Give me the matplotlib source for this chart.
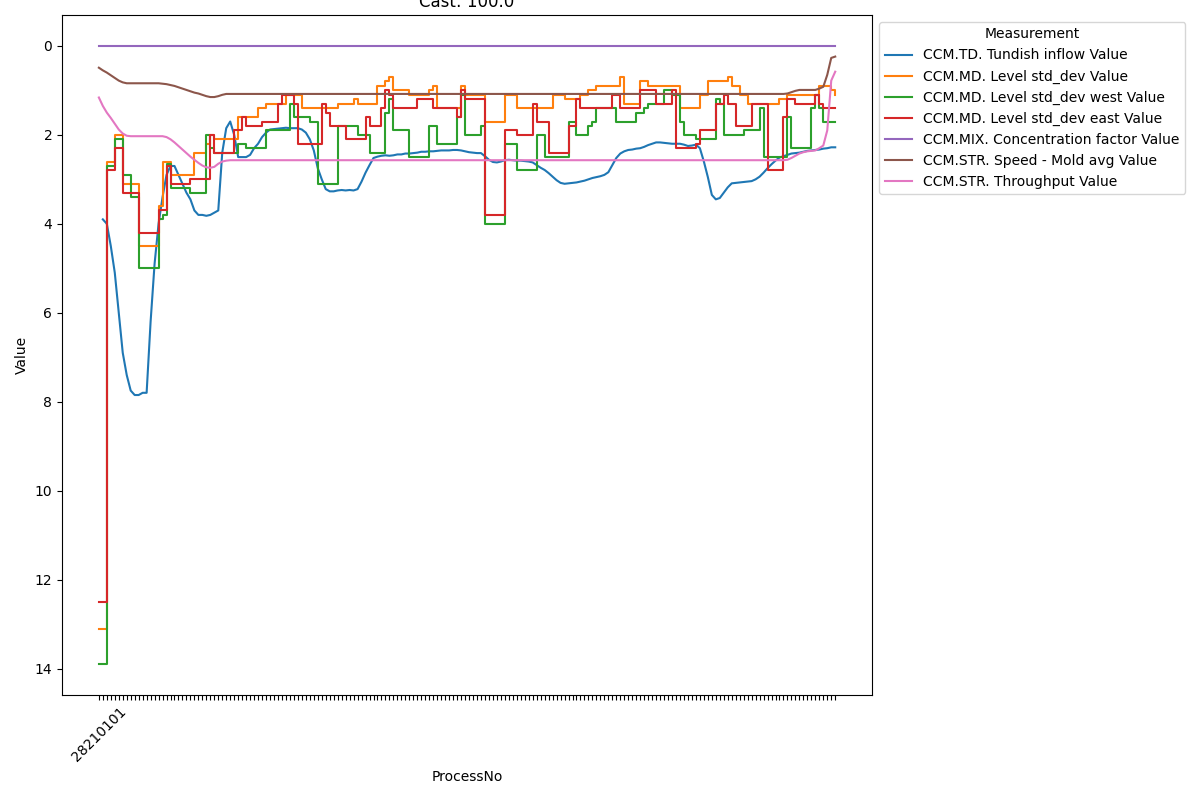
import numpy as np
import matplotlib
matplotlib.use("Agg")
import matplotlib.pyplot as plt

nan = np.nan

# values, one per ProcessNo tick
tundish_inflow = [
    nan, 3.9, 4.0, 4.5, 5.1, 6.0, 6.9, 7.4, 7.75, 7.85,
    7.85, 7.8, 7.8, 6.2, 4.9, 4.0, 3.4, 2.9, 2.7, 2.7,
    2.9, 3.1, 3.3, 3.45, 3.7, 3.8, 3.8, 3.82, 3.8, 3.75,
    3.7, 2.4, 1.85, 1.7, 2.0, 2.5, 2.5, 2.5, 2.45, 2.3,
    2.2, 2.05, 1.95, 1.88, 1.87, 1.86, 1.85, 1.84, 1.85, 1.85,
    1.85, 1.88, 1.95, 2.1, 2.35, 2.75, 3.0, 3.22, 3.27, 3.27,
    3.25, 3.24, 3.25, 3.24, 3.25, 3.22, 3.05, 2.85, 2.68, 2.52,
    2.49, 2.47, 2.46, 2.47, 2.46, 2.44, 2.44, 2.42, 2.42, 2.41,
    2.40, 2.38, 2.38, 2.37, 2.37, 2.36, 2.35, 2.35, 2.35, 2.34,
    2.34, 2.35, 2.37, 2.39, 2.40, 2.41, 2.41, 2.48, 2.56, 2.61,
    2.62, 2.60, 2.57, 2.56, 2.57, 2.58, 2.58, 2.59, 2.60, 2.62,
    2.68, 2.74, 2.79, 2.86, 2.94, 3.02, 3.08, 3.10, 3.09, 3.08,
    3.07, 3.05, 3.03, 3.00, 2.97, 2.95, 2.93, 2.90, 2.84, 2.68,
    2.52, 2.42, 2.37, 2.34, 2.33, 2.31, 2.30, 2.27, 2.23, 2.20,
    2.17, 2.17, 2.18, 2.19, 2.20, 2.20, 2.20, 2.22, 2.25, 2.24,
    2.22, 2.30, 2.60, 2.95, 3.35, 3.45, 3.42, 3.30, 3.18, 3.09,
    3.08, 3.07, 3.06, 3.05, 3.04, 3.00, 2.94, 2.85, 2.75, 2.66,
    2.58, 2.51, 2.48, 2.45, 2.42, 2.41, 2.40, 2.38, 2.36, 2.35,
    2.34, 2.33, 2.31, 2.30, 2.28, 2.28]

level_std = [
    13.1, 13.1, 2.6, 2.6, 2.0, 2.0, 3.1, 3.1, 3.1, 3.1,
    4.5, 4.5, 4.5, 4.5, 4.5, 3.6, 2.6, 2.6, 2.9, 2.9,
    2.9, 2.9, 2.9, 2.9, 2.4, 2.4, 2.4, 2.2, 2.0, 2.1,
    2.1, 2.1, 2.1, 2.1, 2.1, 1.6, 1.6, 1.6, 1.6, 1.6,
    1.4, 1.4, 1.3, 1.3, 1.3, 1.3, 1.3, 1.1, 1.1, 1.1,
    1.1, 1.4, 1.4, 1.4, 1.4, 1.4, 1.4, 1.4, 1.4, 1.4,
    1.3, 1.3, 1.3, 1.3, 1.2, 1.3, 1.3, 1.3, 1.3, 1.3,
    0.9, 0.9, 0.8, 0.7, 1.0, 1.0, 1.0, 1.0, 1.1, 1.1,
    1.1, 1.1, 1.1, 1.0, 0.9, 1.4, 1.4, 1.4, 1.4, 1.4,
    1.4, 0.9, 1.1, 1.1, 1.1, 1.1, 1.1, 1.7, 1.7, 1.7,
    1.7, 1.7, 1.1, 1.1, 1.1, 1.4, 1.4, 1.4, 1.4, 1.4,
    1.4, 1.4, 1.4, 1.4, 1.1, 1.1, 1.1, 1.2, 1.2, 1.2,
    1.2, 1.1, 1.1, 1.0, 1.0, 0.9, 0.9, 0.9, 0.9, 0.9,
    0.9, 0.7, 1.3, 1.3, 1.3, 1.3, 0.8, 0.8, 0.9, 0.9,
    0.9, 0.9, 0.9, 0.9, 0.9, 0.9, 1.4, 1.4, 1.4, 1.4,
    1.4, 1.1, 1.1, 0.8, 0.8, 0.8, 0.8, 0.8, 0.7, 0.9,
    0.9, 1.1, 1.1, 1.3, 1.3, 1.3, 1.3, 1.3, 1.3, 1.3,
    1.3, 1.2, 1.2, 1.1, 1.1, 1.1, 1.1, 1.1, 1.1, 1.1,
    1.1, 0.9, 0.9, 0.9, 1.0, 1.1]

level_std_west = [
    13.9, 13.9, 2.7, 2.7, 2.1, 2.1, 2.9, 2.9, 3.4, 3.4,
    5.0, 5.0, 5.0, 5.0, 5.0, 3.9, 3.8, 2.65, 3.2, 3.2,
    3.2, 3.2, 3.2, 3.3, 3.3, 3.3, 3.3, 2.0, 2.3, 2.4,
    2.4, 2.4, 2.4, 2.4, 2.4, 2.2, 2.2, 2.3, 2.3, 2.3,
    2.3, 2.3, 1.9, 1.9, 1.9, 1.9, 1.9, 1.9, 1.3, 1.6,
    1.6, 1.6, 1.6, 1.7, 1.7, 3.1, 3.1, 3.1, 3.1, 3.1,
    1.8, 1.8, 1.8, 1.8, 1.8, 2.0, 2.0, 2.0, 2.4, 2.4,
    2.4, 2.4, 1.5, 1.2, 1.9, 1.9, 1.9, 1.9, 2.5, 2.5,
    2.5, 2.5, 2.5, 1.8, 1.8, 2.2, 2.2, 2.2, 2.2, 2.2,
    1.6, 1.1, 2.0, 2.0, 2.0, 2.0, 1.8, 4.0, 4.0, 4.0,
    4.0, 4.0, 2.2, 2.2, 2.2, 2.8, 2.8, 2.8, 2.8, 2.8,
    2.0, 2.0, 2.5, 2.5, 2.5, 2.5, 2.5, 2.5, 1.7, 1.7,
    2.0, 2.0, 2.0, 1.8, 1.7, 1.4, 1.4, 1.4, 1.4, 1.4,
    1.7, 1.7, 1.7, 1.7, 1.7, 1.5, 1.5, 1.4, 1.3, 1.3,
    1.3, 1.3, 1.0, 1.0, 1.1, 1.1, 1.7, 2.0, 2.0, 2.0,
    2.1, 2.1, 2.1, 2.1, 2.1, 1.2, 1.3, 2.0, 2.0, 2.0,
    2.0, 2.0, 1.9, 1.9, 1.9, 1.9, 1.4, 2.5, 2.5, 2.5,
    2.5, 2.5, 2.5, 1.6, 2.3, 2.3, 2.3, 2.3, 2.3, 1.4,
    1.1, 1.4, 1.7, 1.7, 1.7, 1.7]

level_std_east = [
    12.5, 12.5, 2.8, 2.8, 2.3, 2.3, 3.3, 3.3, 3.3, 3.3,
    4.2, 4.2, 4.2, 4.2, 4.2, 3.7, 3.7, 2.7, 3.1, 3.1,
    3.1, 3.1, 3.1, 3.0, 3.0, 3.0, 3.0, 3.0, 2.0, 2.4,
    2.4, 2.4, 2.4, 2.4, 1.9, 1.9, 1.6, 1.8, 1.8, 1.8,
    1.8, 1.7, 1.7, 1.7, 1.7, 1.3, 1.1, 1.1, 1.1, 1.3,
    2.2, 2.2, 2.2, 2.2, 2.2, 2.2, 1.3, 1.5, 1.8, 1.8,
    1.8, 1.8, 2.1, 2.1, 2.1, 2.1, 2.1, 1.6, 1.8, 1.8,
    1.8, 1.4, 1.0, 1.1, 1.4, 1.4, 1.4, 1.4, 1.4, 1.4,
    1.2, 1.2, 1.2, 1.2, 1.4, 1.4, 1.4, 1.4, 1.4, 1.4,
    1.6, 1.0, 1.2, 1.2, 1.2, 1.2, 1.2, 3.8, 3.8, 3.8,
    3.8, 3.8, 1.9, 1.9, 1.9, 2.0, 2.0, 2.0, 2.0, 1.3,
    1.7, 1.7, 1.7, 2.4, 2.4, 2.4, 2.4, 2.4, 1.8, 1.8,
    1.2, 1.4, 1.4, 1.4, 1.4, 1.4, 1.4, 1.4, 1.4, 1.1,
    1.1, 1.4, 1.4, 1.4, 1.4, 1.4, 1.0, 1.0, 1.0, 1.0,
    1.3, 1.3, 1.3, 1.3, 1.0, 2.3, 2.3, 2.3, 2.3, 2.3,
    2.2, 1.9, 1.9, 1.9, 1.9, 1.3, 1.3, 1.1, 1.3, 1.3,
    1.8, 1.8, 1.8, 1.8, 1.3, 1.3, 1.3, 1.3, 2.8, 2.8,
    2.8, 2.8, 1.6, 1.2, 1.2, 1.3, 1.3, 1.3, 1.3, 1.3,
    1.1, 1.3, 1.4, 1.4, 1.4, 1.4]

concentration_factor = [
    0, 0, 0, 0, 0, 0, 0, 0, 0, 0, 0, 0, 0, 0, 0, 0, 0, 0, 0, 0,
    0, 0, 0, 0, 0, 0, 0, 0, 0, 0, 0, 0, 0, 0, 0, 0, 0, 0, 0, 0,
    0, 0, 0, 0, 0, 0, 0, 0, 0, 0, 0, 0, 0, 0, 0, 0, 0, 0, 0, 0,
    0, 0, 0, 0, 0, 0, 0, 0, 0, 0, 0, 0, 0, 0, 0, 0, 0, 0, 0, 0,
    0, 0, 0, 0, 0, 0, 0, 0, 0, 0, 0, 0, 0, 0, 0, 0, 0, 0, 0, 0,
    0, 0, 0, 0, 0, 0, 0, 0, 0, 0, 0, 0, 0, 0, 0, 0, 0, 0, 0, 0,
    0, 0, 0, 0, 0, 0, 0, 0, 0, 0, 0, 0, 0, 0, 0, 0, 0, 0, 0, 0,
    0, 0, 0, 0, 0, 0, 0, 0, 0, 0, 0, 0, 0, 0, 0, 0, 0, 0, 0, 0,
    0, 0, 0, 0, 0, 0, 0, 0, 0, 0, 0, 0, 0, 0, 0, 0, 0, 0, 0, 0,
    0, 0, 0, 0, 0, 0]

speed_mold_avg = [
    0.49, 0.55, 0.60, 0.66, 0.72, 0.78, 0.82, 0.84, 0.84, 0.84,
    0.84, 0.84, 0.84, 0.84, 0.84, 0.84, 0.85, 0.86, 0.88, 0.90,
    0.93, 0.96, 0.99, 1.02, 1.05, 1.07, 1.10, 1.13, 1.15, 1.15,
    1.13, 1.10, 1.08, 1.08, 1.08, 1.08, 1.08, 1.08, 1.08, 1.08,
    1.08, 1.08, 1.08, 1.08, 1.08, 1.08, 1.08, 1.08, 1.08, 1.08,
    1.08, 1.08, 1.08, 1.08, 1.08, 1.08, 1.08, 1.08, 1.08, 1.08,
    1.08, 1.08, 1.08, 1.08, 1.08, 1.08, 1.08, 1.08, 1.08, 1.08,
    1.08, 1.08, 1.08, 1.08, 1.08, 1.08, 1.08, 1.08, 1.08, 1.08,
    1.08, 1.08, 1.08, 1.08, 1.08, 1.08, 1.08, 1.08, 1.08, 1.08,
    1.08, 1.08, 1.08, 1.08, 1.08, 1.08, 1.08, 1.08, 1.08, 1.08,
    1.08, 1.08, 1.08, 1.08, 1.08, 1.08, 1.08, 1.08, 1.08, 1.08,
    1.08, 1.08, 1.08, 1.08, 1.08, 1.08, 1.08, 1.08, 1.08, 1.08,
    1.08, 1.08, 1.08, 1.08, 1.08, 1.08, 1.08, 1.08, 1.08, 1.08,
    1.08, 1.08, 1.08, 1.08, 1.08, 1.08, 1.08, 1.08, 1.08, 1.08,
    1.08, 1.08, 1.08, 1.08, 1.08, 1.08, 1.08, 1.08, 1.08, 1.08,
    1.08, 1.08, 1.08, 1.08, 1.08, 1.08, 1.08, 1.08, 1.08, 1.08,
    1.08, 1.08, 1.08, 1.08, 1.08, 1.08, 1.08, 1.08, 1.08, 1.08,
    1.08, 1.08, 1.08, 1.07, 1.04, 1.01, 0.99, 0.99, 0.99, 0.99,
    0.99, 0.96, 0.92, 0.65, 0.27, 0.24]

throughput = [
    1.16, 1.35, 1.50, 1.62, 1.75, 1.88, 1.97, 2.02, 2.03, 2.03,
    2.03, 2.03, 2.03, 2.03, 2.03, 2.03, 2.03, 2.05, 2.10, 2.17,
    2.25, 2.33, 2.41, 2.49, 2.56, 2.63, 2.69, 2.73, 2.74, 2.72,
    2.65, 2.60, 2.58, 2.57, 2.57, 2.57, 2.57, 2.57, 2.57, 2.57,
    2.57, 2.57, 2.57, 2.57, 2.57, 2.57, 2.57, 2.57, 2.57, 2.57,
    2.57, 2.57, 2.57, 2.57, 2.57, 2.57, 2.57, 2.57, 2.57, 2.57,
    2.57, 2.57, 2.57, 2.57, 2.57, 2.57, 2.57, 2.57, 2.57, 2.57,
    2.57, 2.57, 2.57, 2.57, 2.57, 2.57, 2.57, 2.57, 2.57, 2.57,
    2.57, 2.57, 2.57, 2.57, 2.57, 2.57, 2.57, 2.57, 2.57, 2.57,
    2.57, 2.57, 2.57, 2.57, 2.57, 2.57, 2.57, 2.57, 2.57, 2.57,
    2.57, 2.57, 2.57, 2.57, 2.57, 2.57, 2.57, 2.57, 2.57, 2.57,
    2.57, 2.57, 2.57, 2.57, 2.57, 2.57, 2.57, 2.57, 2.57, 2.57,
    2.57, 2.57, 2.57, 2.57, 2.57, 2.57, 2.57, 2.57, 2.57, 2.57,
    2.57, 2.57, 2.57, 2.57, 2.57, 2.57, 2.57, 2.57, 2.57, 2.57,
    2.57, 2.57, 2.57, 2.57, 2.57, 2.57, 2.57, 2.57, 2.57, 2.57,
    2.57, 2.57, 2.57, 2.57, 2.57, 2.57, 2.57, 2.57, 2.57, 2.57,
    2.57, 2.57, 2.57, 2.57, 2.57, 2.57, 2.57, 2.57, 2.57, 2.57,
    2.57, 2.57, 2.57, 2.56, 2.52, 2.47, 2.42, 2.39, 2.37, 2.36,
    2.35, 2.30, 2.24, 1.90, 0.78, 0.58]

first_process = "28210101"
cast_no = 100.0

fig = plt.figure(figsize=(12, 8), dpi=100)
ax = fig.add_axes([0.0517, 0.13125, 0.675, 0.85])

x = np.arange(len(tundish_inflow))

ax.plot(x, tundish_inflow, label="CCM.TD. Tundish inflow Value")
ax.plot(x, level_std, drawstyle="steps-post", label="CCM.MD. Level std_dev Value")
ax.plot(x, level_std_west, drawstyle="steps-post", label="CCM.MD. Level std_dev west Value")
ax.plot(x, level_std_east, drawstyle="steps-post", label="CCM.MD. Level std_dev east Value")
ax.plot(x, concentration_factor, label="CCM.MIX. Concentration factor Value")
ax.plot(x, speed_mold_avg, label="CCM.STR. Speed - Mold avg Value")
ax.plot(x, throughput, label="CCM.STR. Throughput Value")

ax.invert_yaxis()

# every ProcessNo gets a tick, only the first one carries its label
tick_labels = [first_process] + [""] * (len(x) - 1)
ax.set_xticks(x)
ax.set_xticklabels(tick_labels, rotation=45)

ax.set_xlabel("ProcessNo")
ax.set_ylabel("Value")
ax.set_title("Cast: " + str(cast_no))
ax.legend(title="Measurement", loc="upper left", bbox_to_anchor=(1, 1))

fig.savefig("out.png", dpi=100)
